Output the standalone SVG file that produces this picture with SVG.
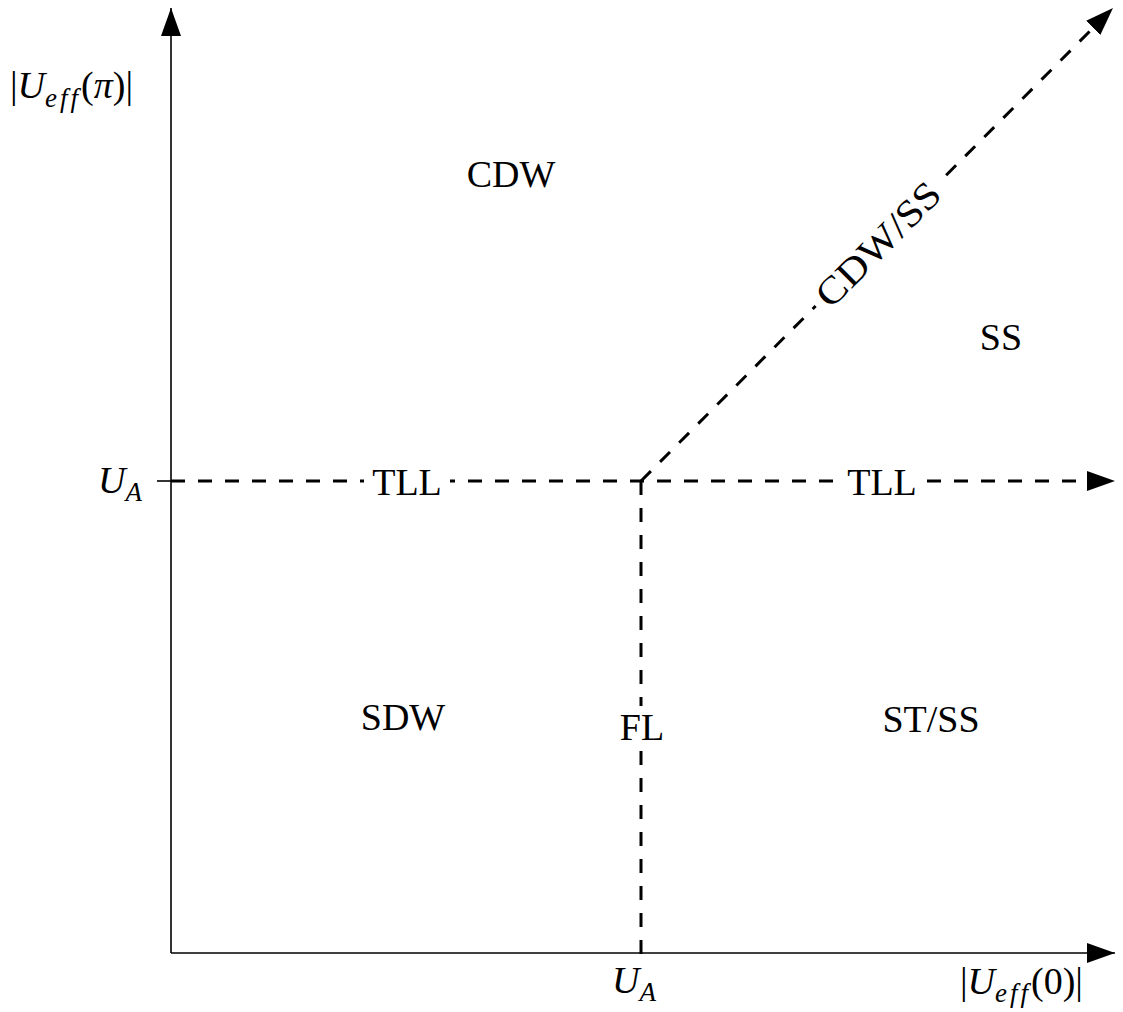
<svg xmlns="http://www.w3.org/2000/svg" width="1123" height="1012" viewBox="0 0 1123 1012">
<style>
.ax{stroke:#000;stroke-width:1.6;fill:none}
.ds{stroke:#000;stroke-width:3;fill:none;stroke-dasharray:14 13}
.lb{font-family:"Liberation Serif","Times New Roman","DejaVu Serif",serif;font-size:38px;fill:#000;text-anchor:middle}
.m{font-family:"Liberation Serif","Times New Roman","DejaVu Serif",serif;font-size:38px;fill:#000}
.it{font-style:italic}
.sb{font-style:italic;font-size:27px;letter-spacing:3px}
.bg{fill:#fff}
</style>
<defs>
<marker id="ah" viewBox="0 0 28 20" refX="28" refY="10" markerWidth="28" markerHeight="20" markerUnits="userSpaceOnUse" orient="auto">
<path d="M0,0 L28,10 L0,20 Z" fill="#000"/>
</marker>
</defs>
<g id="connectors">
<line class="ax" x1="171" y1="953" x2="171" y2="8" marker-end="url(#ah)"/>
<line class="ax" x1="171" y1="953" x2="1115" y2="953" marker-end="url(#ah)"/>
<line class="ax" x1="157" y1="481" x2="171" y2="481"/>
<line class="ds" x1="171" y1="481" x2="1115" y2="481" marker-end="url(#ah)"/>
<line class="ds" x1="641" y1="481" x2="641" y2="967"/>
<line class="ds" x1="641" y1="481" x2="1113" y2="8" marker-end="url(#ah)"/>
</g>
<g id="yaxis-label">
<text class="m" x="10" y="98">|<tspan class="it">U</tspan><tspan class="sb" dy="9">eff</tspan><tspan dy="-9">(</tspan><tspan class="it">π</tspan>)|</text>
</g>
<g id="xaxis-label">
<text class="m" x="960" y="994">|<tspan class="it">U</tspan><tspan class="sb" dy="8">eff</tspan><tspan dy="-8">(0)|</tspan></text>
</g>
<g id="ua-left">
<text class="m" x="98" y="493"><tspan class="it">U</tspan><tspan class="it" font-size="27" dy="8">A</tspan></text>
</g>
<g id="ua-bottom">
<text class="m" x="612" y="993"><tspan class="it">U</tspan><tspan class="it" font-size="27" dy="8">A</tspan></text>
</g>
<g id="cdw"><text class="lb" x="511" y="187">CDW</text></g>
<g id="ss"><text class="lb" x="1001" y="350">SS</text></g>
<g id="tll-left"><rect class="bg" x="364" y="464" width="86" height="36"/><text class="lb" x="407" y="495">TLL</text></g>
<g id="tll-right"><rect class="bg" x="839" y="464" width="86" height="36"/><text class="lb" x="882" y="495">TLL</text></g>
<g id="sdw"><text class="lb" x="403" y="730">SDW</text></g>
<g id="fl"><rect class="bg" x="614" y="706" width="54" height="44"/><text class="lb" x="642" y="740">FL</text></g>
<g id="stss"><text class="lb" x="931" y="732">ST/SS</text></g>
<g id="cdwss" transform="translate(878,244) rotate(-45)">
<rect class="bg" x="-88" y="-18" width="176" height="38"/>
<text class="lb" x="0" y="13" textLength="160" lengthAdjust="spacingAndGlyphs">CDW/SS</text>
</g>
</svg>
